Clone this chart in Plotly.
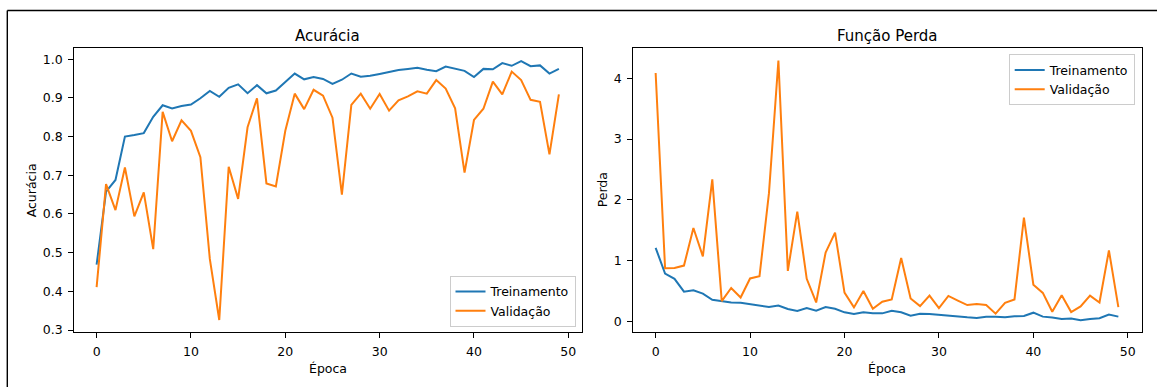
import plotly.graph_objects as go

W, H = 1157, 392

epochs = list(range(50))

acc_train = [0.469, 0.658, 0.688, 0.800, 0.804, 0.809, 0.851, 0.881, 0.873, 0.879,
             0.883, 0.899, 0.918, 0.903, 0.926, 0.935, 0.912, 0.933, 0.912, 0.919,
             0.941, 0.963, 0.948, 0.954, 0.949, 0.936, 0.947, 0.963, 0.955, 0.957,
             0.962, 0.967, 0.972, 0.975, 0.978, 0.973, 0.969, 0.981, 0.976, 0.970,
             0.954, 0.975, 0.974, 0.990, 0.983, 0.995, 0.982, 0.984, 0.963, 0.975]

acc_val = [0.411, 0.677, 0.610, 0.720, 0.594, 0.656, 0.509, 0.864, 0.788, 0.842,
           0.815, 0.747, 0.484, 0.326, 0.722, 0.639, 0.824, 0.899, 0.679, 0.671,
           0.815, 0.911, 0.871, 0.921, 0.906, 0.849, 0.650, 0.882, 0.911, 0.872,
           0.910, 0.867, 0.894, 0.904, 0.917, 0.911, 0.946, 0.924, 0.873, 0.707,
           0.843, 0.872, 0.942, 0.909, 0.968, 0.946, 0.895, 0.890, 0.754, 0.909]

loss_train = [1.212, 0.790, 0.703, 0.492, 0.514, 0.460, 0.357, 0.330, 0.314, 0.308,
              0.287, 0.265, 0.238, 0.265, 0.206, 0.173, 0.222, 0.179, 0.238, 0.211,
              0.152, 0.124, 0.152, 0.135, 0.135, 0.179, 0.152, 0.097, 0.130, 0.124,
              0.108, 0.097, 0.081, 0.070, 0.060, 0.081, 0.081, 0.070, 0.087, 0.092,
              0.146, 0.081, 0.065, 0.043, 0.049, 0.020, 0.043, 0.054, 0.114, 0.081]

loss_val = [4.085, 0.877, 0.882, 0.920, 1.537, 1.071, 2.338, 0.335, 0.552, 0.395,
            0.709, 0.747, 2.110, 4.291, 0.833, 1.807, 0.703, 0.314, 1.136, 1.461,
            0.476, 0.233, 0.503, 0.211, 0.325, 0.363, 1.044, 0.379, 0.254, 0.427,
            0.222, 0.422, 0.346, 0.271, 0.287, 0.271, 0.130, 0.308, 0.363, 1.710,
            0.606, 0.471, 0.162, 0.433, 0.157, 0.249, 0.427, 0.314, 1.169, 0.238]

acc_ticks = [0.3, 0.4, 0.5, 0.6, 0.7, 0.8, 0.9, 1.0]
loss_ticks = [0, 1, 2, 3, 4]
epoch_ticks = [0, 10, 20, 30, 40, 50]

BLUE = "#1f77b4"
ORANGE = "#ff7f0e"
FONT = "DejaVu Sans"
LW = 2


def px(x):
    return x / W


def py(y):
    return 1 - y / H


fig = go.Figure()

fig.add_trace(go.Scatter(x=epochs, y=acc_train, mode="lines", name="Treinamento",
                         line=dict(color=BLUE, width=LW), xaxis="x", yaxis="y",
                         legend="legend"))
fig.add_trace(go.Scatter(x=epochs, y=acc_val, mode="lines", name="Validação",
                         line=dict(color=ORANGE, width=LW), xaxis="x", yaxis="y",
                         legend="legend"))
fig.add_trace(go.Scatter(x=epochs, y=loss_train, mode="lines", name="Treinamento",
                         line=dict(color=BLUE, width=LW), xaxis="x2", yaxis="y2",
                         legend="legend2"))
fig.add_trace(go.Scatter(x=epochs, y=loss_val, mode="lines", name="Validação",
                         line=dict(color=ORANGE, width=LW), xaxis="x2", yaxis="y2",
                         legend="legend2"))

ax_common = dict(showgrid=False, zeroline=False, showline=True, linecolor="black",
                 linewidth=1, mirror=True, ticks="outside", ticklen=4.4, tickwidth=1,
                 tickcolor="black", tickfont=dict(family=FONT, size=12.5, color="black"),
                 ticklabelstandoff=3)

y_dom = [py(336.7), py(49)]

fig.update_layout(
    width=W, height=H,
    margin=dict(l=0, r=0, t=0, b=0),
    paper_bgcolor="white", plot_bgcolor="white",
    font=dict(family=FONT, size=12.5, color="black"),
    xaxis=dict(domain=[px(73.5), px(582)], range=[-2.45, 51.45], tickvals=epoch_ticks,
               anchor="y", **ax_common),
    yaxis=dict(domain=y_dom, range=[0.294, 1.028], tickvals=acc_ticks,
               tickformat=".1f", anchor="x", **ax_common),
    xaxis2=dict(domain=[px(632.5), px(1141.5)], range=[-2.45, 51.45], tickvals=epoch_ticks,
                anchor="y2", **ax_common),
    yaxis2=dict(domain=y_dom, range=[-0.178, 4.49], tickvals=loss_ticks,
                anchor="x2", **ax_common),
    legend=dict(x=px(575.5), y=py(331), xanchor="right", yanchor="bottom",
                bgcolor="rgba(255,255,255,0.8)", bordercolor="#cccccc", borderwidth=1,
                font=dict(family=FONT, size=12.5, color="black"), tracegroupgap=0),
    legend2=dict(x=px(1134.7), y=py(55), xanchor="right", yanchor="top",
                 bgcolor="rgba(255,255,255,0.8)", bordercolor="#cccccc", borderwidth=1,
                 font=dict(family=FONT, size=12.5, color="black"), tracegroupgap=0),
    showlegend=True,
)

annotations = [
    dict(text="Acurácia", x=px(327.8), y=py(36), xref="paper", yref="paper",
         xanchor="center", yanchor="middle", showarrow=False,
         font=dict(family=FONT, size=15, color="black")),
    dict(text="Função Perda", x=px(887), y=py(36), xref="paper", yref="paper",
         xanchor="center", yanchor="middle", showarrow=False,
         font=dict(family=FONT, size=15, color="black")),
    dict(text="Época", x=px(327.8), y=py(373), xref="paper", yref="paper",
         xanchor="center", yanchor="middle", showarrow=False,
         font=dict(family=FONT, size=12.5, color="black")),
    dict(text="Época", x=px(887), y=py(373), xref="paper", yref="paper",
         xanchor="center", yanchor="middle", showarrow=False,
         font=dict(family=FONT, size=12.5, color="black")),
    dict(text="Acurácia", x=px(31), y=py(192.8), xref="paper", yref="paper",
         xanchor="center", yanchor="middle", showarrow=False, textangle=-90,
         font=dict(family=FONT, size=12.5, color="black")),
    dict(text="Perda", x=px(602), y=py(192.8), xref="paper", yref="paper",
         xanchor="center", yanchor="middle", showarrow=False, textangle=-90,
         font=dict(family=FONT, size=12.5, color="black")),
]
fig.update_layout(annotations=annotations)

# outer frame of the figure (top and left edges visible in the crop)
fig.add_shape(type="line", xref="paper", yref="paper",
              x0=px(7.3), x1=1.0, y0=py(10.7), y1=py(10.7),
              line=dict(color="black", width=1.4), layer="below")
fig.add_shape(type="line", xref="paper", yref="paper",
              x0=px(7.3), x1=px(7.3), y0=0.0, y1=py(10.7),
              line=dict(color="black", width=1.4), layer="below")

fig.write_html("out.html")
